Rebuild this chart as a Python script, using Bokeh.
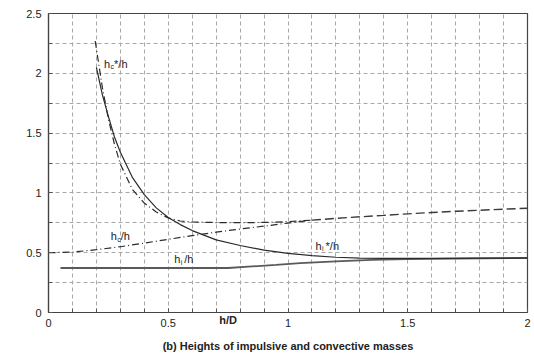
from bokeh.plotting import figure
from bokeh.models import (Range1d, SingleIntervalTicker, FixedTicker, CustomJSTickFormatter,
                          Label, LinearAxis)
from bokeh.embed import file_html
from bokeh.resources import INLINE

# ---- data ----
# h_i*/h (solid, dark)
hi_star_x = [0.20, 0.225, 0.25, 0.275, 0.30, 0.35, 0.40, 0.45, 0.50, 0.55, 0.60, 0.70, 0.80,
             0.90, 1.00, 1.10, 1.20, 1.30, 1.40, 1.60, 1.80, 2.00]
hi_star_y = [2.05, 1.82, 1.64, 1.47, 1.34, 1.13, 0.985, 0.875, 0.795, 0.735, 0.685, 0.607, 0.56,
             0.522, 0.495, 0.475, 0.462, 0.455, 0.452, 0.452, 0.454, 0.456]
# h_i/h (solid, grey)
hi_x = [0.05, 0.75, 0.85, 0.95, 1.05, 1.20, 1.35, 1.50, 1.70, 2.00]
hi_y = [0.372, 0.372, 0.385, 0.398, 0.412, 0.428, 0.440, 0.447, 0.451, 0.455]
# h_c*/h (dash-dot)
hc_star_x = [0.195, 0.225, 0.25, 0.275, 0.30, 0.35, 0.40, 0.45, 0.50, 0.55, 0.60, 0.70, 0.80,
             0.90, 1.00, 1.10]
hc_star_y = [2.27, 1.88, 1.62, 1.41, 1.24, 1.03, 0.915, 0.84, 0.79, 0.765, 0.757, 0.752, 0.751,
             0.753, 0.76, 0.772]
# h_c/h (dash-dot)
hc_x = [0.0, 0.10, 0.20, 0.30, 0.40, 0.50, 0.60, 0.70, 0.80, 0.90, 1.00, 1.10]
hc_y = [0.50, 0.505, 0.525, 0.55, 0.58, 0.612, 0.643, 0.672, 0.698, 0.722, 0.748, 0.772]
# merged h_c / h_c* (dashed)
hcm_x = [1.10, 1.20, 1.30, 1.40, 1.50, 1.60, 1.70, 1.80, 1.90, 2.00]
hcm_y = [0.772, 0.787, 0.80, 0.812, 0.825, 0.836, 0.846, 0.855, 0.864, 0.872]

x_ticks_major = 0.5
y_ticks_major = 0.5
x_title_pos = [0.75]
x_title = "h/D"
caption = "(b) Heights of impulsive and convective masses"

FONT = "Liberation Sans"
LC = "#2b2b2b"

p = figure(width=532, height=354, x_range=Range1d(0, 2), y_range=Range1d(0, 2.5),
           output_backend="svg", toolbar_location=None,
           min_border_left=48, min_border_right=5, min_border_top=13, min_border_bottom=5)

p.background_fill_color = "white"
p.border_fill_color = "white"
p.outline_line_color = "#444444"
p.outline_line_width = 1.2

fmt = CustomJSTickFormatter(code="return String(Math.round(tick*100)/100);")
for ax, interval, nminor in ((p.xaxis[0], x_ticks_major, 5), (p.yaxis[0], y_ticks_major, 2)):
    ax.ticker = SingleIntervalTicker(interval=interval, num_minor_ticks=nminor)
    ax.formatter = fmt
    ax.major_tick_in = 4
    ax.major_tick_out = 0
    ax.minor_tick_in = 4
    ax.minor_tick_out = 0
    ax.major_tick_line_color = "#555555"
    ax.minor_tick_line_color = "#555555"
    ax.axis_line_color = "#444444"
    ax.axis_line_width = 1.2
    ax.major_label_text_font = FONT
    ax.major_label_text_font_size = "11px"
    ax.major_label_text_color = "#222222"
p.xaxis.major_label_standoff = 6
p.yaxis.major_label_standoff = 7

# second (label-only) axis below: "h/D" on the tick-label line + bold caption
ax2 = LinearAxis(ticker=FixedTicker(ticks=x_title_pos, minor_ticks=[]),
                 formatter=CustomJSTickFormatter(code="return '%s';" % x_title),
                 axis_line_color=None, major_tick_line_color=None, minor_tick_line_color=None,
                 major_tick_in=0, major_tick_out=0, minor_tick_in=0, minor_tick_out=0,
                 major_label_standoff=-16,
                 major_label_text_font=FONT, major_label_text_font_size="11px",
                 major_label_text_font_style="bold", major_label_text_color="#222222",
                 axis_label=caption, axis_label_standoff=11,
                 axis_label_text_font=FONT, axis_label_text_font_size="11px",
                 axis_label_text_font_style="bold", axis_label_text_color="#222222")
p.add_layout(ax2, "below")

p.xgrid.ticker = SingleIntervalTicker(interval=0.1)
p.ygrid.ticker = SingleIntervalTicker(interval=0.25)
for g in (p.xgrid[0], p.ygrid[0]):
    g.grid_line_color = "#a8a8a8"
    g.grid_line_dash = "4 3"
    g.grid_line_width = 1

# curves
p.line(hi_x, hi_y, line_color="#5a5a5a", line_width=1.8)
p.line(hi_star_x, hi_star_y, line_color=LC, line_width=1.2)
p.line(hc_star_x, hc_star_y, line_color=LC, line_width=1.2, line_dash="7 3 1 3")
p.line(hc_x, hc_y, line_color=LC, line_width=1.2, line_dash="7 3 1 3")
p.line(hcm_x, hcm_y, line_color="#3a3a3a", line_width=1.4, line_dash="9 4")


def curve_label(x, y, sub, tail):
    common = dict(x=x, y=y, x_units="data", y_units="data", text_font=FONT,
                  text_color="#222222", text_baseline="middle", text_align="left")
    p.add_layout(Label(text="h", text_font_size="11px", **common))
    p.add_layout(Label(text=sub, text_font_size="7px", x_offset=6.5, y_offset=-3, **common))
    p.add_layout(Label(text=tail, text_font_size="11px", x_offset=10, **common))


curve_label(0.232, 2.08, "c", "*/h")
curve_label(0.26, 0.636, "c", "/h")
curve_label(0.525, 0.447, "i", "/h")
curve_label(1.115, 0.558, "i", "*/h")

open("out.html", "w").write(file_html(p, INLINE))
